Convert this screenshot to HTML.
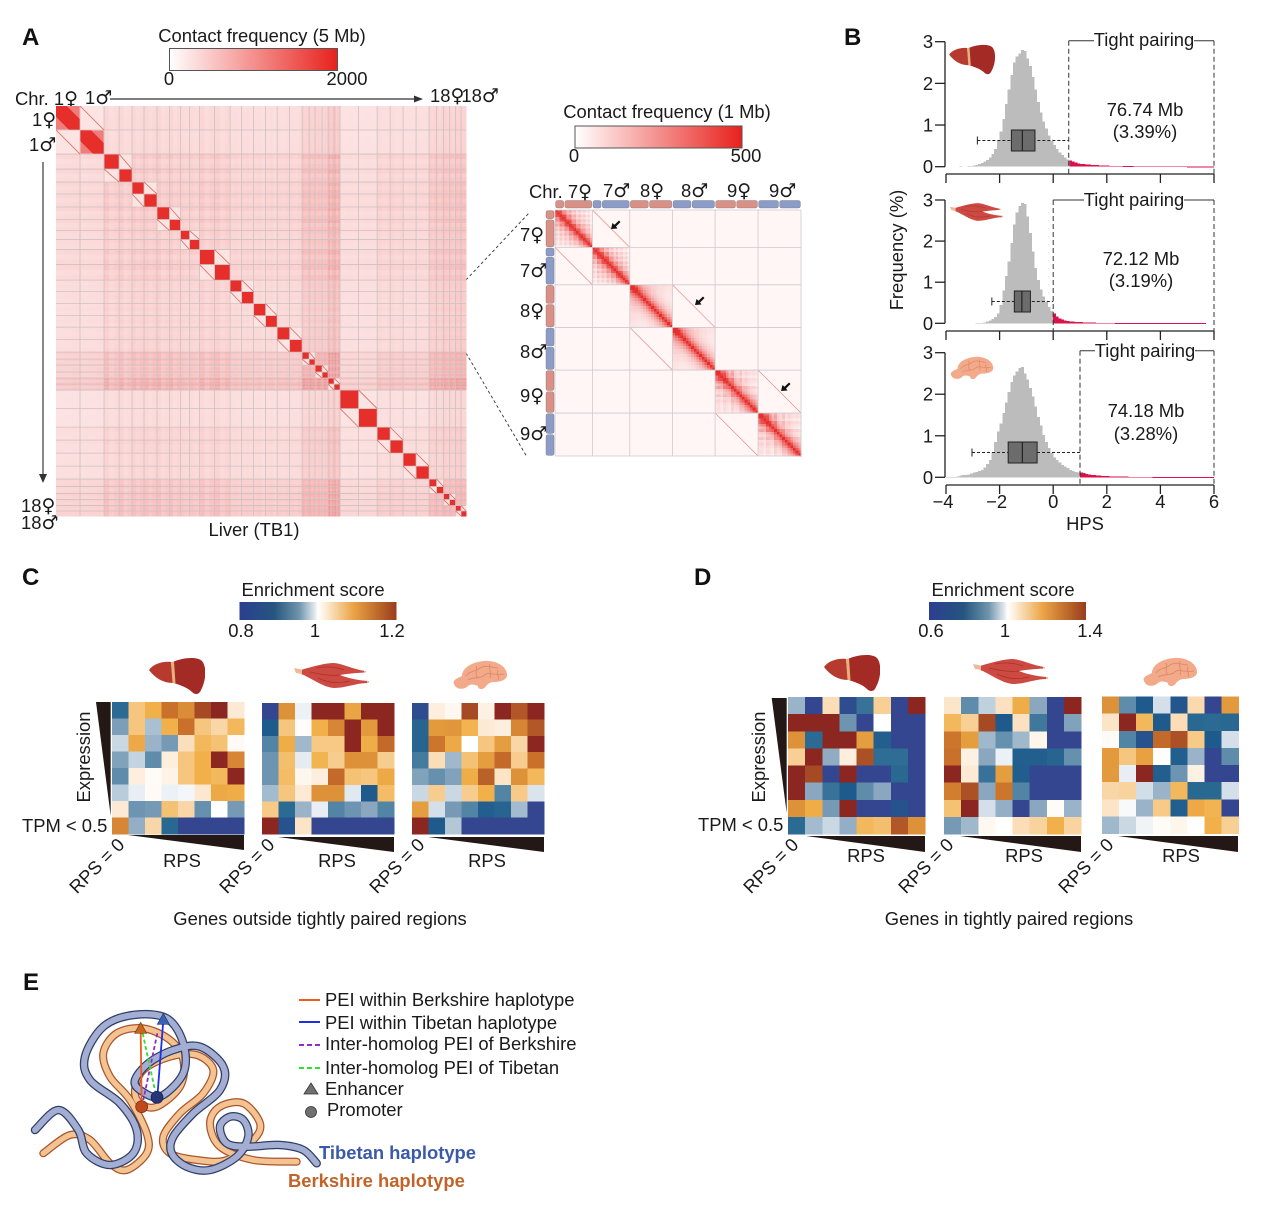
<!DOCTYPE html>
<html lang="en">
<head>
<meta charset="utf-8">
<title>Haplotype contact figure</title>
<style>
html,body{margin:0;padding:0;background:#fff}
svg{display:block}
text{font-family:"Liberation Sans","DejaVu Sans",sans-serif;fill:#1a1a1a;font-size:18.4px}
.bold{font-weight:bold}
.panel{font-size:24px;font-weight:bold;fill:#111}
.sym{font-family:"DejaVu Sans",sans-serif;font-size:19px;letter-spacing:-3px}
</style>
</head>
<body>
<svg id="fig" xmlns="http://www.w3.org/2000/svg" width="1280" height="1217" viewBox="0 0 1280 1217">
<defs>
<linearGradient id="gradA" x1="0" x2="1" y1="0" y2="0"><stop offset="0" stop-color="#ffffff"/><stop offset="1" stop-color="#e8211c"/></linearGradient>
<linearGradient id="gradDiv" x1="0" x2="1" y1="0" y2="0">
<stop offset="0" stop-color="#2c3f90"/><stop offset=".22" stop-color="#25557f"/><stop offset=".38" stop-color="#6f94ad"/><stop offset=".48" stop-color="#e3e9ee"/><stop offset=".5" stop-color="#ffffff"/><stop offset=".54" stop-color="#fdf0de"/><stop offset=".72" stop-color="#eca648"/><stop offset=".88" stop-color="#bd6a2a"/><stop offset="1" stop-color="#983c20"/>
</linearGradient>
<symbol id="liver" viewBox="0 0 56 38">
<path d="M24 5C32 1 48 -1 53 4C58 10 57 24 52 33C50 38 46 38 43 35C38 30 30 28 25 26Z" fill="#a32a25"/>
<path d="M0 13C4 7 14 4 22 5L24 26C14 26 6 21 0 13Z" fill="#b63b2e"/>
<path d="M22 5L25 4.500L26.500 26L23.500 26Z" fill="#e6b07a"/>
</symbol>
<symbol id="muscle" viewBox="0 0 75 25">
<path d="M7 7C20 3 32 0 40 0C50 1 58 6 71 8L71 9.500C60 10 52 11 46 12C54 15 62 17 74 18L74 20C62 20 52 25 40 25C28 24 16 14 7 11Z" fill="#cc4a42"/>
<path d="M0 5L8 6.500L8 11L2 10Z" fill="#eeb99a"/>
<path d="M70 8H72V9.500H70ZM73 18H75V20H73Z" fill="#eeb99a"/>
<path d="M16 9C28 12 38 13 46 12M22 5C32 3 42 4 50 7M24 15C34 20 44 21 56 18" stroke="#a9302b" stroke-width=".7" fill="none"/>
</symbol>
<symbol id="brain" viewBox="0 0 58 30">
<path d="M4 24C2 20 8 18 12 16C12 8 22 2 34 1C46 0 56 6 57 14C58 20 50 22 44 22C40 22 38 24 36 26C34 30 28 30 28 26C24 24 20 24 18 26C14 30 6 30 4 24Z" fill="#f2aa8a"/>
<path d="M16 16C20 10 26 12 30 8C36 4 42 8 48 8M18 20C24 16 30 20 36 14C40 12 46 16 54 14M26 6C28 10 24 14 28 18M40 4C38 8 42 12 40 18M48 10C46 14 50 16 48 20" stroke="#e08c6c" stroke-width="1" fill="none"/>
</symbol>
</defs>

<g>
<text class="panel" x="22" y="45">A</text>
<text class="panel" x="844" y="45">B</text>
<text class="panel" x="22" y="585">C</text>
<text class="panel" x="694" y="585">D</text>
<text class="panel" x="23" y="990">E</text>
</g>

<!-- Panel A static -->
<g>
<text x="262" y="42" text-anchor="middle">Contact frequency (5 Mb)</text>
<rect x="169.500" y="48.500" width="168" height="22" fill="url(#gradA)" stroke="#555" stroke-width="1"/>
<text x="169" y="85" text-anchor="middle">0</text>
<text x="347" y="85" text-anchor="middle">2000</text>
</g>
<g>
<text x="15" y="105">Chr. 1<tspan class="sym">♀</tspan></text>
<text x="85" y="104">1<tspan class="sym">♂</tspan></text>
<text x="430" y="102">18<tspan class="sym">♀</tspan>18<tspan class="sym">♂</tspan></text>
<path d="M110 99H418" stroke="#555" stroke-width="1.400"/>
<path d="M423 99L414 95.500V102.500Z" fill="#333"/>
<text x="32" y="126">1<tspan class="sym">♀</tspan></text>
<text x="29" y="151">1<tspan class="sym">♂</tspan></text>
<path d="M43 162V476" stroke="#555" stroke-width="1.400"/>
<path d="M43 483L39 474H47Z" fill="#333"/>
<text x="21" y="512">18<tspan class="sym">♀</tspan></text>
<text x="21" y="529">18<tspan class="sym">♂</tspan></text>
<text x="254" y="536" text-anchor="middle">Liver (TB1)</text>
<path d="M466 280L529 213M466 353L527 457" stroke="#333" stroke-width=".9" stroke-dasharray="3 2.500" fill="none"/>
</g>
<g id="mapA" shape-rendering="crispEdges"></g>
<g id="mapAover"></g>

<g>
<text x="667" y="118" text-anchor="middle">Contact frequency (1 Mb)</text>
<rect x="575" y="126" width="167" height="22" fill="url(#gradA)" stroke="#555" stroke-width="1"/>
<text x="574" y="162" text-anchor="middle">0</text>
<text x="746" y="162" text-anchor="middle">500</text>
</g>
<g>
<text x="529" y="198">Chr. 7<tspan class="sym">♀</tspan></text>
<text x="603" y="197">7<tspan class="sym">♂</tspan></text>
<text x="640" y="197">8<tspan class="sym">♀</tspan></text>
<text x="681" y="197">8<tspan class="sym">♂</tspan></text>
<text x="727" y="197">9<tspan class="sym">♀</tspan></text>
<text x="769" y="197">9<tspan class="sym">♂</tspan></text>
<text x="520" y="241">7<tspan class="sym">♀</tspan></text>
<text x="520" y="277">7<tspan class="sym">♂</tspan></text>
<text x="520" y="317">8<tspan class="sym">♀</tspan></text>
<text x="520" y="358">8<tspan class="sym">♂</tspan></text>
<text x="520" y="402">9<tspan class="sym">♀</tspan></text>
<text x="520" y="440">9<tspan class="sym">♂</tspan></text>
</g>
<g id="mapZoom"></g>

<!-- Panel B -->
<g id="panelB"></g>
<text transform="translate(903,250) rotate(-90)" text-anchor="middle">Frequency (%)</text>
<text x="1085" y="530" text-anchor="middle">HPS</text>

<!-- Panels C D -->
<g>
<text x="313" y="596" text-anchor="middle">Enrichment score</text>
<rect x="239.500" y="602" width="157" height="18" fill="url(#gradDiv)"/>
<text x="241" y="637" text-anchor="middle">0.8</text>
<text x="315" y="637" text-anchor="middle">1</text>
<text x="392" y="637" text-anchor="middle">1.2</text>
</g>
<g>
<text x="1003" y="596" text-anchor="middle">Enrichment score</text>
<rect x="929" y="602" width="157" height="18" fill="url(#gradDiv)"/>
<text x="931" y="637" text-anchor="middle">0.6</text>
<text x="1005" y="637" text-anchor="middle">1</text>
<text x="1090" y="637" text-anchor="middle">1.4</text>
</g>
<g id="heatmaps"></g>
<g>
<use href="#liver" x="149" y="657" width="56" height="38"/>
<use href="#muscle" x="294" y="663" width="75" height="25"/>
<use href="#brain" x="450" y="660" width="58" height="30"/>
<use href="#liver" x="824" y="654" width="56" height="38"/>
<use href="#muscle" x="973" y="659" width="75" height="25"/>
<use href="#brain" x="1140" y="657" width="58" height="30"/>
<path d="M96 702H110.700V816Z" fill="#231815"/>
<path d="M771.700 698H786.700V813Z" fill="#231815"/>
<path d="M128 835H244V850Z M278 837H394V852Z M428 837H544V852Z" fill="#231815"/>
<path d="M806 836H925V852Z M960 836H1081V852Z M1118 836H1238V852Z" fill="#231815"/>
<text transform="translate(90,757) rotate(-90)" text-anchor="middle">Expression</text>
<text transform="translate(765,757) rotate(-90)" text-anchor="middle">Expression</text>
<text x="22" y="832">TPM &lt; 0.5</text>
<text x="698" y="831">TPM &lt; 0.5</text>
<text transform="translate(97,866) rotate(-45)" text-anchor="middle" dy="6">RPS = 0</text>
<text transform="translate(247,866) rotate(-45)" text-anchor="middle" dy="6">RPS = 0</text>
<text transform="translate(397,866) rotate(-45)" text-anchor="middle" dy="6">RPS = 0</text>
<text transform="translate(771,866) rotate(-45)" text-anchor="middle" dy="6">RPS = 0</text>
<text transform="translate(926,866) rotate(-45)" text-anchor="middle" dy="6">RPS = 0</text>
<text transform="translate(1086,866) rotate(-45)" text-anchor="middle" dy="6">RPS = 0</text>
<text x="182" y="867" text-anchor="middle">RPS</text>
<text x="337" y="867" text-anchor="middle">RPS</text>
<text x="487" y="867" text-anchor="middle">RPS</text>
<text x="866" y="862" text-anchor="middle">RPS</text>
<text x="1024" y="862" text-anchor="middle">RPS</text>
<text x="1181" y="862" text-anchor="middle">RPS</text>
<text x="320" y="925" text-anchor="middle">Genes outside tightly paired regions</text>
<text x="1009" y="925" text-anchor="middle">Genes in tightly paired regions</text>
</g>

<!-- Panel E -->
<g id="panelE"></g>
<g>
<path d="M299 1000H320" stroke="#f05a1e" stroke-width="2"/>
<path d="M299 1022H320" stroke="#2030e0" stroke-width="2"/>
<path d="M299 1045H320" stroke="#8a30c8" stroke-width="2" stroke-dasharray="5 3"/>
<path d="M299 1068H320" stroke="#30e030" stroke-width="2" stroke-dasharray="5 3"/>
<text x="325" y="1006">PEI within Berkshire haplotype</text>
<text x="325" y="1029">PEI within Tibetan haplotype</text>
<text x="325" y="1050">Inter-homolog PEI of Berkshire</text>
<text x="325" y="1074">Inter-homolog PEI of Tibetan</text>
<path d="M311 1083L318 1094H304Z" fill="#707070" stroke="#333" stroke-width=".8"/>
<text x="325" y="1095">Enhancer</text>
<circle cx="311" cy="1112" r="5.500" fill="#707070" stroke="#333" stroke-width=".8"/>
<text x="327" y="1116">Promoter</text>
<text x="319" y="1159" class="bold" style="fill:#3a5aa8">Tibetan haplotype</text>
<text x="288" y="1187" class="bold" style="fill:#c0642a">Berkshire haplotype</text>
</g>
</svg>

<script>
/* ===== Panel A data ===== */
const haplotypeLengthsMb = [285,285,178,154,142,154,148,131,107,119,178,184,137,142,142,137,148,148,83,71,83,71,71,71,220,220,154,154,154,154,89,83,71,71,65,59];
const chromActivity = [.36,.52,.56,.56,.52,.55,.46,.44,.46,.78,.74,.92,.32,.44,.4,.66,.72,.74];
const binProfile = [
[.95,1,1.05],[1.25,.9,1.05],[1.15,.95,1.1],[1.2,.9,1.05],[1.1,1,.95],[1.2,.9,1.1],[1,1.05,.95],[1,1.1,.9],[1,.95,1.05],
[1.1,.95,1],[.95,1.1,1],[1.25,1,1.15],[.95,1,.95],[1.1,.95,1],[1,1,1],[1.05,.95,1.1],[1.1,1,.95],[1.1,1,1.05]];
const mapA = {x:56,y:106,size:410};
/* ===== Zoom map data ===== */
const zoomLengthsMb = [121,121,138,138,139,139];
const zoomProfiles = [
[1,.45,1,.55,.95,.5,1,.5,.85,.45,.9,.55,.8,.45,.7,.35],
[1,.95,.8,.65,.6,.55,.55,.55,.5,.55,.5,.5,.55,.5,.5,.55],
[1,1,.55,.95,.65,.35,.85,.4,.35,.75,.4,.65,.55,.5,.6,.5]];
const zoomBarMb = [[30,91],[30,91],[62,76],[62,76],[68,71],[68,71]];
const arrowHints = [[616,224],[700,300],[786,386]];
/* ===== Panel B data: bins of 0.1 HPS starting at -4.0 ===== */
const histLiver = [0,0,0,0,0,.005,.01,.01,.015,.02,
.03,.04,.06,.09,.12,.16,.22,.3,.42,.62,
.85,1.15,1.5,1.85,2.2,2.5,2.65,2.72,2.8,2.78,
2.6,2.42,2.15,1.85,1.55,1.3,1.08,.92,.75,.62,
.52,.42,.34,.28,.22,.17,.15,.12,.1,.08,
.07,.06,.055,.05,.045,.04,.035,.03,.03,.025,
.025,.02,.02,.02,.018,.016,.015,.015,.012,.012,
.01,.01,.01,.01,.008,.008,.008,.007,.007,.006,
.006,.005,.005,.005,.005,.004,.004,.004,.004,.004,
.003,.003,.003,.003,.003,.002,.002,.002,.002,.002];
const histMuscle = [0,0,0,0,0,0,0,0,0,0,
0,.003,.006,.01,.02,.04,.07,.1,.15,.24,
.45,.8,1.15,1.5,1.95,2.4,2.7,2.85,2.93,2.9,
2.6,2.2,1.75,1.35,1.05,.82,.65,.52,.4,.3,
.24,.17,.12,.09,.07,.055,.045,.04,.035,.03,
.026,.023,.02,.018,.016,.014,.012,.011,.01,.009,
.008,.008,.007,.006,.006,.005,.005,.005,.004,.004,
.004,.004,.003,.003,.003,.003,.003,.002,.002,.002,
.002,.002,.002,.002,.002,.002,.002,.002,.002,.002,
.002,.002,.002,.002,.002,.002,.002,0,0,0];
const histBrain = [.002,.004,.006,.01,.02,.04,.05,.06,.07,.09,
.11,.13,.15,.18,.24,.32,.42,.6,.85,1.1,
1.3,1.55,1.8,2.05,2.3,2.45,2.55,2.63,2.65,2.5,
2.35,2.15,1.95,1.7,1.45,1.25,1.02,.85,.7,.58,
.48,.42,.36,.3,.26,.22,.18,.15,.13,.11,
.12,.1,.08,.07,.06,.05,.045,.04,.035,.03,
.028,.025,.022,.02,.018,.016,.015,.014,.012,.011,
.01,.01,.009,.008,.008,.007,.007,.006,.006,.005,
.005,.005,.004,.004,.004,.004,.003,.003,.003,.003,
.003,.002,.002,.002,.002,.002,.002,.002,.002,.002];
const hpsTicks = [-4,-2,0,2,4,6];
const freqTicks = [0,1,2,3];
const thresholds = [.58,0,1];
const boxStats = [[-2.83,-1.56,-1.15,-.68,.58],[-2.29,-1.45,-1.17,-.85,0],[-3.03,-1.68,-1.15,-.6,1]];
const tightMb = ["76.74 Mb","72.12 Mb","74.18 Mb"];
const tightPct = ["(3.39%)","(3.19%)","(3.28%)"];
/* ===== Panels C, D data: enrichment relative to colour-limit (-1..1) ===== */
const enrichCLiver = [
[-.7,.35,.5,.8,.7,.92,1,.12],[-.4,.35,-.25,.5,.8,.35,.22,.45],[-.15,.55,-.3,-.42,.17,.45,.38,.03],[-.38,-.17,-.5,.1,.35,.5,1,.72],
[-.5,.1,.02,.07,.35,.5,.45,1],[-.2,-.06,.03,-.05,-.03,.13,.55,.52],[.12,-.45,-.42,.38,.22,-.48,0,-.42],[.72,-.32,.22,-.72,-1,-1,-1,-1]];
const enrichCMuscle = [
[-1,.68,-.05,1,1,.58,1,1],[-.85,.35,.01,.5,.72,1,.65,1],[-.55,.52,-.28,.33,.33,1,.52,.82],[-.45,.4,-.07,.48,.3,.68,.68,.3],
[-.45,.42,.05,.1,.82,.38,.35,.55],[-.27,.35,.12,.68,.68,-.08,-.85,.42],[.32,-.7,-.3,-.06,-.55,-.45,-.35,-.55],[1,-.9,.15,-1,-1,-1,-1,-1]];
const enrichCBrain = [
[-.95,.1,.04,.92,.08,1,.88,1],[-.75,.65,.66,.48,.12,.1,.72,.88],[-.75,.78,.55,0,.35,.62,.22,1],[-.6,.18,-.28,.38,.62,.82,.3,.8],
[-.38,-.48,-.38,.52,.85,.15,.68,.45],[-.15,.3,-.15,.3,.5,-.55,.32,-.1],[.62,-.12,-.42,-.55,-.8,-.75,-.27,-1],[1,-.85,-.22,-1,-1,-1,-1,-1]];
const enrichDLiver = [
[-.3,-1,.18,-.95,-.65,.28,-1,1],[1,1,1,-.45,-1,0,-1,-1],[.68,-.7,1,1,.62,-.8,-1,-1],[.28,1,-.33,.1,.9,-.68,-.68,-1],
[1,.92,-1,1,-1,-1,-.72,-1],[1,-.35,-.65,-.85,-.5,-.35,-1,-1],[.68,.52,-.42,1,-1,-1,-.9,-1],[-.7,-.27,-.15,-.32,.45,.4,.88,.68]];
const enrichDMuscle = [
[.14,-.5,-.18,.16,.52,-.35,-1,1],[.45,.28,.92,-.85,.16,-.62,-1,-.38],[.78,.62,-.28,-.48,-.28,.06,-1,-1],[.8,.08,-.35,-.05,-.8,-.8,-.75,-.48],
[1,.12,-.65,.62,-.82,-1,-1,-1],[.75,.9,-.35,.78,-.55,-1,-1,-1],[.38,1,-.12,-.32,-1,-.35,.02,-.3],[-.42,-.28,.04,0,.18,.25,.5,.24]];
const enrichDBrain = [
[.68,-.5,-.85,-.12,-.88,.2,-1,.65],[.15,1,.45,-.85,.18,-.72,-.7,-.72],[.03,-.55,-.9,.82,.9,.32,-.85,-.12],[.65,.35,.6,.01,-.8,-.3,-1,-.5],
[.65,-.06,1,-.8,-.45,.08,-1,-1],[.22,.25,-.13,-.3,.45,-.72,-.72,-.12],[.15,-.02,-.3,.32,-.8,.55,.48,-1],[-.28,-.15,-.04,.02,.06,0,.5,.28]];

const NS = 'http://www.w3.org/2000/svg';
function el(tag, attrs, parent){
  const e = document.createElementNS(NS, tag);
  for (const k in attrs) e.setAttribute(k, attrs[k]);
  parent.appendChild(e);
  return e;
}
function mixWhiteRed(t){
  t = Math.max(0, Math.min(1, t));
  const r = Math.round(255 + (230 - 255) * t), g = Math.round(255 + (46 - 255) * t), b = Math.round(255 + (43 - 255) * t);
  return 'rgb(' + r + ',' + g + ',' + b + ')';
}

/* ---------- Panel A main map ---------- */
(function(){
  const root = document.getElementById('mapA');
  const over = document.getElementById('mapAover');
  const total = haplotypeLengthsMb.reduce(function(a,b){return a+b;},0);
  const k = mapA.size / total;
  const edges = [0];
  haplotypeLengthsMb.forEach(function(v){ edges.push(edges[edges.length-1] + v * k); });
  const bins = [];
  haplotypeLengthsMb.forEach(function(v, h){
    const chr = Math.floor(h / 2);
    for (let b = 0; b < 3; b++) {
      bins.push({h: h, chr: chr, s: edges[h] + (edges[h+1]-edges[h]) * b / 3, w: (edges[h+1]-edges[h]) / 3, a: chromActivity[chr] * binProfile[chr][b]});
    }
  });
  bins.forEach(function(bi){
    bins.forEach(function(bj){
      let t;
      if (bi.chr === bj.chr) {
        t = bi.h === bj.h ? 1 : .13;
      } else {
        t = .1 + .45 * Math.pow(bi.a * bj.a, 1.1);
      }
      const r = el('rect', {x: (mapA.x + bj.s).toFixed(2), y: (mapA.y + bi.s).toFixed(2), width: (bj.w + .4).toFixed(2), height: (bi.w + .4).toFixed(2), fill: mixWhiteRed(t)}, root);
      
      
    });
  });
  edges.forEach(function(e, i){
    if (i === 0 || i === edges.length - 1) return;
    const v = el('path', {d: 'M' + (mapA.x + e) + ' ' + mapA.y + 'V' + (mapA.y + mapA.size) + 'M' + mapA.x + ' ' + (mapA.y + e) + 'H' + (mapA.x + mapA.size), stroke: '#cfc0c0', 'stroke-width': .8, fill: 'none'}, over);
    
    
  });
  for (let c = 0; c < 18; c++) {
    const a0 = edges[2*c], a1 = edges[2*c+1], a2 = edges[2*c+2];
    const p1 = el('path', {d: 'M' + (mapA.x+a1) + ' ' + (mapA.y+a0) + 'L' + (mapA.x+a2) + ' ' + (mapA.y+a1) + 'M' + (mapA.x+a0) + ' ' + (mapA.y+a1) + 'L' + (mapA.x+a1) + ' ' + (mapA.y+a2), stroke: '#dd6a66', 'stroke-width': .8, fill: 'none'}, over);
    
    
  }
  /* lighter corners in the largest chromosome */
  [[0,1],[1,2]].forEach(function(p){
    const a = edges[p[0]], b = edges[p[1]];
    const m = (b - a) * .55;
    const tri = el('path', {d: 'M' + (mapA.x+b-m) + ' ' + (mapA.y+a) + 'H' + (mapA.x+b) + 'V' + (mapA.y+a+m) + 'Z M' + (mapA.x+a) + ' ' + (mapA.y+b-m) + 'V' + (mapA.y+b) + 'H' + (mapA.x+a+m) + 'Z', fill: '#ffffff', 'fill-opacity': .38}, over);
    
    
  });
})();

/* ---------- Zoom map ---------- */
(function(){
  const root = document.getElementById('mapZoom');
  const box = {x: 555, y: 210, size: 246};
  const total = zoomLengthsMb.reduce(function(a,b){return a+b;},0);
  const k = box.size / total;
  const e = [0];
  zoomLengthsMb.forEach(function(v){ e.push(e[e.length-1] + v * k); });
  const bg = el('rect', {x: box.x, y: box.y, width: box.size, height: box.size, fill: '#fff6f5'}, root);
  
  
  const cells = el('g', {'shape-rendering': 'crispEdges'}, root);
  
  
  zoomLengthsMb.forEach(function(v, h){
    const prof = zoomProfiles[Math.floor(h / 2)];
    const n = prof.length, s = (e[h+1] - e[h]) / n;
    for (let i = 0; i < n; i++) for (let j = 0; j < n; j++) {
      const d = Math.abs(i - j) / (n - 1);
      const t = .95 * Math.exp(-5.5 * d) + .42 * prof[i] * prof[j] * (1 - .45 * d);
      const r = el('rect', {x: (box.x + e[h] + j * s).toFixed(2), y: (box.y + e[h] + i * s).toFixed(2), width: (s + .3).toFixed(2), height: (s + .3).toFixed(2), fill: mixWhiteRed(t)}, cells);
      
      
    }
  });
  for (let c = 0; c < 3; c++) {
    const a0 = e[2*c], a1 = e[2*c+1], a2 = e[2*c+2];
    const l = el('path', {d: 'M' + (box.x+a1) + ' ' + (box.y+a0) + 'L' + (box.x+a2) + ' ' + (box.y+a1) + 'M' + (box.x+a0) + ' ' + (box.y+a1) + 'L' + (box.x+a1) + ' ' + (box.y+a2), stroke: '#e98a88', 'stroke-width': .7, fill: 'none'}, root);
    
    
  }
  e.forEach(function(v){
    const l = el('path', {d: 'M' + (box.x+v) + ' ' + box.y + 'V' + (box.y+box.size) + 'M' + box.x + ' ' + (box.y+v) + 'H' + (box.x+box.size), stroke: '#cfc9cf', 'stroke-width': .8, fill: 'none'}, root);
    
    
  });
  zoomLengthsMb.forEach(function(v, h){
    const col = h % 2 === 0 ? '#db9086' : '#8c9cc8';
    const w = e[h+1] - e[h], f = zoomBarMb[h][0] / (zoomBarMb[h][0] + zoomBarMb[h][1]);
    [[0, f], [f, 1]].forEach(function(seg){
      const top = el('rect', {x: box.x + e[h] + seg[0]*w + .6, y: 200.500, width: (seg[1]-seg[0])*w - 1.2, height: 7.500, rx: 2, fill: col, stroke: '#777', 'stroke-width': .4}, root);
      
      
      const left = el('rect', {x: 546, y: box.y + e[h] + seg[0]*w + .6, width: 8, height: (seg[1]-seg[0])*w - 1.2, rx: 2, fill: col, stroke: '#777', 'stroke-width': .4}, root);
      
      
    });
  });
  arrowHints.forEach(function(p){
    const ar = el('path', {d: 'M-5 5L-3.500 -1L-1.500 .8L3 -3.500L4.500 -2L0 2.500L1.500 4.500Z', transform: 'translate(' + p[0] + ',' + p[1] + ')', fill: '#111'}, root);
    
    
  });
})();

/* ---------- Panel B ---------- */
(function(){
  const root = document.getElementById('panelB');
  const panels = [
    {y3: 41.7, y0: 166.7, axisY: 174, hist: histLiver, top: 40.7, boxH: [130,151], label: 1144, textY: [116,138], labelY: 46, textX: 1145, icon: ['liver',949,44,46,31]},
    {y3: 200, y0: 323.3, axisY: 331, hist: histMuscle, top: 200, boxH: [291,312], label: 1134, textY: [265,287], labelY: 206, textX: 1141, icon: ['muscle',950,203,53,18]},
    {y3: 352.7, y0: 477.3, axisY: 485, hist: histBrain, top: 350.7, boxH: [442,463], label: 1145, textY: [417,440], labelY: 357, textX: 1146, icon: ['brain',948,356,46,24]}
  ];
  function xs(h){ return 946 + (h + 4) * 26.8; }
  panels.forEach(function(p, idx){
    const g = el('g', {}, root);
    
    
    const ys = function(v){ return p.y0 - v * (p.y0 - p.y3) / 3; };
    const th = thresholds[idx];
    p.hist.forEach(function(v, i){
      const h = -4 + i * .1;
      if (v <= 0) return;
      const tail = h >= th - 1e-6;
      const r = el('rect', {x: xs(h).toFixed(2), y: ys(v).toFixed(2), width: 2.75, height: (Math.max(p.y0 - ys(v), tail ? .7 : .4)).toFixed(2), fill: tail ? '#d8124a' : '#bcbcbc', 'shape-rendering': 'crispEdges'}, g);
      
      
    });
    const bs = boxStats[idx];
    const midY = (p.boxH[0] + p.boxH[1]) / 2;
    const wh = el('path', {d: 'M' + xs(bs[0]) + ' ' + midY + 'H' + xs(bs[4]), stroke: '#222', 'stroke-width': 1, 'stroke-dasharray': '3 2', fill: 'none'}, g);
    
    
    const cap = el('path', {d: 'M' + xs(bs[0]) + ' ' + (midY-4) + 'V' + (midY+4), stroke: '#222', 'stroke-width': 1}, g);
    
    
    const bx = el('rect', {x: xs(bs[1]), y: p.boxH[0], width: xs(bs[3]) - xs(bs[1]), height: p.boxH[1] - p.boxH[0], fill: '#6c6c6c', stroke: '#222', 'stroke-width': 1}, g);
    
    
    const med = el('path', {d: 'M' + xs(bs[2]) + ' ' + p.boxH[0] + 'V' + p.boxH[1], stroke: '#222', 'stroke-width': 1.2}, g);
    
    
    const yAxis = el('path', {d: 'M945 ' + p.y3 + 'V' + p.y0, stroke: '#222', 'stroke-width': 1.3, fill: 'none'}, g);
    
    
    freqTicks.forEach(function(v){
      const t = el('path', {d: 'M935 ' + ys(v) + 'H945', stroke: '#222', 'stroke-width': 1.3}, g);
      
      
      const l = el('text', {x: 928, y: ys(v) + 6.500, 'text-anchor': 'middle'}, g);
      l.textContent = v;
      
      
    });
    const xAxis = el('path', {d: 'M' + xs(-4) + ' ' + p.axisY + 'H' + xs(6), stroke: '#222', 'stroke-width': 1.3, fill: 'none'}, g);
    
    
    hpsTicks.forEach(function(v){
      const t = el('path', {d: 'M' + xs(v) + ' ' + p.axisY + 'V' + (p.axisY + 9), stroke: '#222', 'stroke-width': 1.3}, g);
      
      
      if (idx === 2) {
        const l = el('text', {x: xs(v) + (v < 0 ? -3 : 0), y: 508, 'text-anchor': 'middle'}, g);
        l.textContent = (v < 0 ? '\u2212' : '') + Math.abs(v);
        
        
      }
    });
    const d = el('path', {d: 'M' + xs(th) + ' ' + p.top + 'V' + p.axisY + 'M' + xs(6) + ' ' + p.top + 'V' + p.axisY, stroke: '#333', 'stroke-width': 1, 'stroke-dasharray': '5 3', fill: 'none'}, g);
    
    
    const tb = el('path', {d: 'M' + xs(th) + ' ' + p.top + 'H' + xs(6), stroke: '#333', 'stroke-width': 1, fill: 'none'}, g);
    
    
    const bgT = el('rect', {x: p.label - 50, y: p.top - 10, width: 100, height: 20, fill: '#fff'}, g);
    
    
    const tp = el('text', {x: p.label, y: p.labelY, 'text-anchor': 'middle'}, g);
    tp.textContent = 'Tight pairing';
    
    
    const m = el('text', {x: p.textX, y: p.textY[0], 'text-anchor': 'middle'}, g);
    m.textContent = tightMb[idx];
    
    
    const q = el('text', {x: p.textX, y: p.textY[1], 'text-anchor': 'middle'}, g);
    q.textContent = tightPct[idx];
    
    
    const ic = el('use', {href: '#' + p.icon[0], x: p.icon[1], y: p.icon[2], width: p.icon[3], height: p.icon[4]}, g);
    
    
  });
})();

/* ---------- Heatmaps ---------- */
const divStops = [[-1,[52,70,143]],[-.85,[31,90,140]],[-.7,[43,106,146]],[-.5,[95,140,171]],[-.35,[138,167,191]],[-.2,[185,204,219]],[-.06,[232,238,243]],[0,[255,255,255]],[.1,[253,238,221]],[.2,[250,217,174]],[.35,[246,198,127]],[.5,[241,176,74]],[.65,[226,154,60]],[.8,[201,112,43]],[.92,[166,74,37]],[1,[139,38,33]]];
function divColor(t){
  t = Math.max(-1, Math.min(1, t));
  for (let i = 1; i < divStops.length; i++) {
    if (t <= divStops[i][0]) {
      const a = divStops[i-1], b = divStops[i], f = (t - a[0]) / (b[0] - a[0]);
      return 'rgb(' + a[1].map(function(v, c){ return Math.round(v + (b[1][c] - v) * f); }).join(',') + ')';
    }
  }
  return 'rgb(139,38,33)';
}
(function(){
  const root = document.getElementById('heatmaps');
  const maps = [
    [enrichCLiver,112,702,132,132,'c-liver'],[enrichCMuscle,262,703,132,131,'c-muscle'],[enrichCBrain,412,703,132,131,'c-brain'],
    [enrichDLiver,788,697,137,137,'d-liver'],[enrichDMuscle,944,697,137,137,'d-muscle'],[enrichDBrain,1102,696.5,136.5,137,'d-brain']
  ];
  maps.forEach(function(m){
    const g = el('g', {'shape-rendering': 'crispEdges'}, root);
    
    
    const rows = m[0].length, cols = m[0][0].length;
    const yr = function(i){ return m[2] + i * m[4] / rows; };
    const xc = function(j){ return m[1] + j * m[3] / cols; };
    m[0].forEach(function(row, i){
      row.forEach(function(v, j){
        const r = el('rect', {x: xc(j).toFixed(2), y: yr(i).toFixed(2), width: (m[3]/cols + .3).toFixed(2), height: (m[4]/rows + .3).toFixed(2), fill: divColor(v)}, g);
        
        
      });
    });
  });
})();

/* ---------- Panel E ---------- */
(function(){
  const root = document.getElementById('panelE');
  function tx(p){ return [20 + p[0] / 3, 990 + p[1] / 3]; }
  function spline(pts){
    const q = pts.map(tx);
    let d = 'M' + q[0][0].toFixed(1) + ' ' + q[0][1].toFixed(1);
    for (let i = 0; i < q.length - 1; i++) {
      const p0 = q[Math.max(i-1,0)], p1 = q[i], p2 = q[i+1], p3 = q[Math.min(i+2,q.length-1)];
      d += 'C' + (p1[0] + (p2[0]-p0[0])/6).toFixed(1) + ' ' + (p1[1] + (p2[1]-p0[1])/6).toFixed(1) + ' ' + (p2[0] - (p3[0]-p1[0])/6).toFixed(1) + ' ' + (p2[1] - (p3[1]-p1[1])/6).toFixed(1) + ' ' + p2[0].toFixed(1) + ' ' + p2[1].toFixed(1);
    }
    return d;
  }
  const berkshire = [[70,490],[150,435],[210,450],[270,520],[320,540],[380,490],[380,430],[330,330],[270,260],[250,190],[290,130],[370,115],[450,150],[490,210],[480,290],[410,350],[360,340],[345,300],[370,240],[450,200],[530,195],[580,240],[550,310],[480,370],[430,440],[450,490],[530,510],[620,510],[700,450],[720,400],[670,340],[600,350],[570,400],[600,470],[700,510],[830,515]];
  const tibetan = [[45,420],[115,360],[175,420],[200,490],[270,525],[340,490],[350,420],[300,340],[210,270],[195,200],[250,110],[340,75],[440,85],[490,160],[490,250],[420,320],[360,300],[345,270],[385,220],[460,180],[540,170],[610,230],[600,300],[520,370],[460,440],[455,490],[500,530],[570,540],[650,500],[685,440],[670,390],[630,380],[600,410],[620,460],[680,470],[780,465],[850,480],[890,520]];
  const sb = spline(berkshire), st = spline(tibetan);
  const b1 = el('path', {d: sb, fill: 'none', stroke: '#a9552c', 'stroke-width': 8, 'stroke-linecap': 'round', 'stroke-linejoin': 'round'}, root);
  
  
  const b2 = el('path', {d: sb, fill: 'none', stroke: '#f3c492', 'stroke-width': 5.500, 'stroke-linecap': 'round', 'stroke-linejoin': 'round'}, root);
  
  
  const t1 = el('path', {d: st, fill: 'none', stroke: '#2e3f68', 'stroke-width': 8.500, 'stroke-linecap': 'round', 'stroke-linejoin': 'round'}, root);
  
  
  const t2 = el('path', {d: st, fill: 'none', stroke: '#a3aed2', 'stroke-width': 6, 'stroke-linecap': 'round', 'stroke-linejoin': 'round'}, root);
  
  
  function line(a, b, col, dash, name){
    const p = tx(a), q = tx(b);
    const attrs = {x1: p[0], y1: p[1], x2: q[0], y2: q[1], stroke: col, 'stroke-width': 1.8};
    if (dash) attrs['stroke-dasharray'] = '4 2.500';
    const l = el('line', attrs, root);
    
    
  }
  line([412,130],[370,330],'#8a30c8',true,'inter-homolog-berkshire-line');
  line([368,130],[408,315],'#30e030',true,'inter-homolog-tibetan-line');
  line([365,350],[362,115],'#f05a1e',false,'pei-berkshire-line');
  line([412,320],[430,90],'#2030e0',false,'pei-tibetan-line');
  function tri(c, col, stroke, name){
    const p = tx(c);
    const t = el('path', {d: 'M' + p[0] + ' ' + (p[1]-6) + 'L' + (p[0]+6) + ' ' + (p[1]+5) + 'H' + (p[0]-6) + 'Z', fill: col, stroke: stroke, 'stroke-width': .7}, root);
    
    
  }
  tri([362,115],'#c8641e','#7a3a12','berkshire-enhancer');
  tri([430,88],'#3a62b4','#22376b','tibetan-enhancer');
  function dot(c, col, stroke, name){
    const p = tx(c);
    const t = el('circle', {cx: p[0], cy: p[1], r: 6, fill: col, stroke: stroke, 'stroke-width': .7}, root);
    
    
  }
  dot([365,350],'#c0481c','#6a2a10','berkshire-promoter');
  dot([411,322],'#26357a','#141d44','tibetan-promoter');
})();
</script>
</body>
</html>
